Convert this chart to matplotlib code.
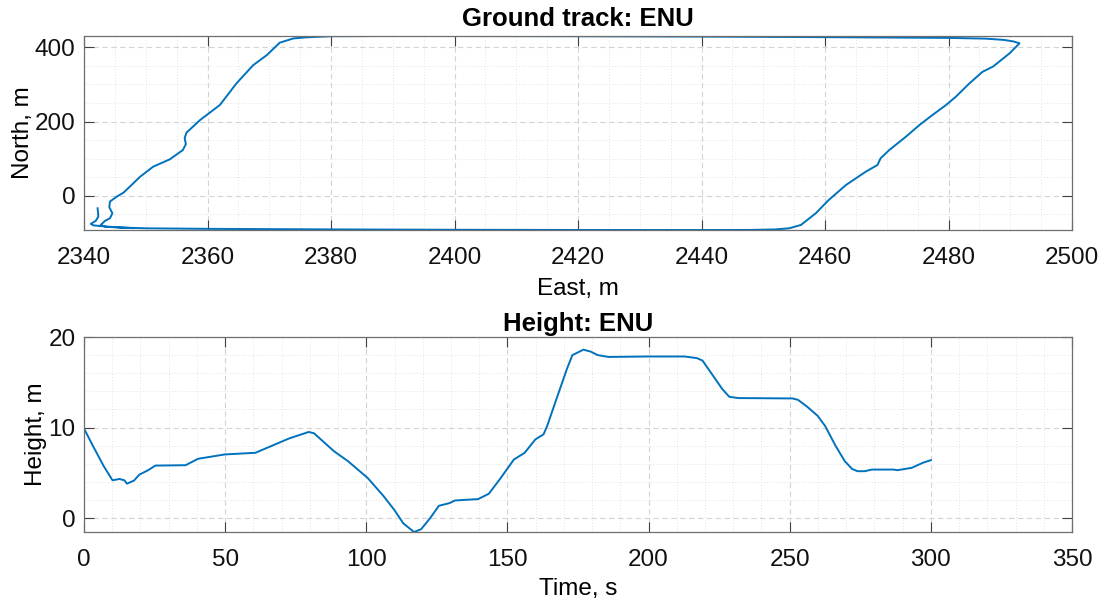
"""Ground track and height plots in ENU frame."""

from __future__ import annotations

import matplotlib as mpl

mpl.use("Agg")
import matplotlib.pyplot as plt
from matplotlib.ticker import MultipleLocator


# ground track, metres
EAST = [
    2342.2, 2342.3, 2342.3, 2341.9, 2341.1, 2341.5, 2342.6,
    2346.0, 2350.0, 2360.0, 2380.0, 2400.0, 2420.0, 2440.0, 2448.0, 2452.0, 2454.2, 2456.1,
    2458.5, 2460.6, 2463.4, 2466.6, 2468.5, 2469.0, 2470.4, 2473.1, 2475.3, 2477.4, 2479.6,
    2481.2, 2483.4, 2485.5, 2487.2, 2489.9, 2491.5,
    2490.5, 2489.0, 2486.0, 2480.0, 2460.0, 2440.0, 2420.0, 2400.0, 2390.0, 2380.0, 2376.0,
    2373.9, 2371.7,
    2369.6, 2367.4, 2364.7, 2362.0, 2358.8, 2356.6, 2356.3, 2356.5, 2356.0, 2353.9, 2351.2,
    2349.1, 2346.4, 2345.3, 2344.2, 2344.1, 2344.6, 2344.2, 2343.4, 2342.7, 2343.5, 2348.0,
]
NORTH = [
    -34.0, -50.0, -57.0, -68.0, -76.0, -80.0, -82.0,
    -86.0, -88.0, -89.5, -91.0, -92.0, -92.5, -92.6, -92.4, -91.0, -88.0, -79.0,
    -47.6, -11.7, 28.8, 64.7, 82.7, 100.7, 123.0, 159.0, 190.6, 217.5, 244.5,
    267.0, 303.0, 334.0, 348.0, 384.0, 411.0,
    416.0, 420.0, 423.5, 425.5, 427.5, 429.0, 430.0, 430.5, 430.6, 430.0, 427.0,
    424.0, 412.6,
    379.0, 352.0, 303.0, 244.5, 204.0, 170.0, 155.0, 139.0, 123.0, 98.0, 78.2,
    51.2, 8.1, -2.6, -16.0, -31.3, -47.5, -61.0, -68.0, -79.0, -84.0, -87.5,
]

# height over time
TIME = [
    0.0, 3.2, 7.0, 10.1, 12.6, 14.3, 15.2, 17.7, 19.6, 22.7, 25.3, 36.0, 40.4, 49.9, 60.7,
    66.3, 72.7, 79.6, 81.5, 88.5, 93.5, 100.5, 106.2, 109.9, 113.1, 116.9, 119.4, 122.6,
    125.7, 129.5, 131.4, 139.6, 143.4, 147.2, 152.3, 156.1, 159.9, 162.8, 164.1, 167.3,
    171.1, 173.0, 176.9, 179.4, 182.0, 185.8, 200.0, 212.7, 217.1, 219.1, 222.9, 226.1,
    228.6, 231.8, 251.0, 252.9, 256.1, 259.9, 262.5, 266.3, 269.5, 272.1, 274.0, 276.6,
    279.1, 286.8, 288.1, 293.2, 297.1, 300.0,
]
HEIGHT = [
    9.9, 7.96, 5.74, 4.19, 4.33, 4.19, 3.81, 4.15, 4.81, 5.3, 5.81, 5.85, 6.56, 7.04, 7.22,
    7.96, 8.81, 9.52, 9.37, 7.41, 6.3, 4.44, 2.41, 0.93, -0.56, -1.52, -1.22, 0.0,
    1.37, 1.67, 1.96, 2.11, 2.7, 4.26, 6.48, 7.22, 8.7, 9.26, 10.2, 13.1,
    16.5, 18.0, 18.6, 18.4, 18.0, 17.8, 17.85, 17.85, 17.67, 17.4, 15.7, 14.26,
    13.4, 13.26, 13.22, 13.07, 12.33, 11.3, 10.2, 7.96, 6.3, 5.44, 5.19, 5.19,
    5.37, 5.37, 5.3, 5.56, 6.11, 6.41,
]

LINE_COLOR = "#0072BD"


def style_axes(ax, x_major, x_minor, y_major, y_minor):
    ax.xaxis.set_major_locator(MultipleLocator(x_major))
    ax.xaxis.set_minor_locator(MultipleLocator(x_minor))
    ax.yaxis.set_major_locator(MultipleLocator(y_major))
    ax.yaxis.set_minor_locator(MultipleLocator(y_minor))
    ax.grid(True, which="major", linestyle=(0, (5, 3)), color="#d4d4d4", linewidth=0.8)
    ax.grid(True, which="minor", linestyle=(0, (1, 2)), color="#e2e2e2", linewidth=0.7)
    ax.set_axisbelow(True)
    ax.tick_params(which="major", direction="in", length=7, width=0.8, color="#404040",
                   top=True, right=True, labelsize=17.5, labelcolor="#111111")
    ax.tick_params(axis="x", which="major", pad=12.5)
    ax.tick_params(axis="y", which="major", pad=6)
    ax.tick_params(which="minor", length=0, top=True, right=True)
    for spine in ax.spines.values():
        spine.set_color("#6e6e6e")
        spine.set_linewidth(0.9)


def main() -> None:
    mpl.rcParams.update(
        {
            "font.family": ["Liberation Sans", "DejaVu Sans"],
            "font.size": 17.5,
        }
    )

    fig = plt.figure(figsize=(11.07, 6.03), dpi=100)
    ax_top = fig.add_axes([84 / 1107, 1 - 230 / 603, 988 / 1107, 194 / 603])
    ax_bot = fig.add_axes([84 / 1107, 1 - 532 / 603, 988 / 1107, 195 / 603])

    ax_top.plot(EAST, NORTH, color=LINE_COLOR, linewidth=1.4)
    style_axes(ax_top, 20, 5, 200, 50)
    ax_top.set_xlim(2340, 2500)
    ax_top.set_ylim(min(NORTH), max(NORTH))
    ax_top.set_xlabel("East, m", fontsize=17.5, labelpad=6)
    ax_top.set_ylabel("North, m", fontsize=17.5, labelpad=1)
    ax_top.set_title("Ground track: ENU", fontsize=18.5, fontweight="bold", pad=7)

    ax_bot.plot(TIME, HEIGHT, color=LINE_COLOR, linewidth=1.4)
    style_axes(ax_bot, 50, 10, 10, 2)
    ax_bot.set_xlim(0, 350)
    ax_bot.set_ylim(min(HEIGHT), 20)
    ax_bot.set_xlabel("Time, s", fontsize=17.5, labelpad=5)
    ax_bot.set_ylabel("Height, m", fontsize=17.5, labelpad=1)
    ax_bot.set_title("Height: ENU", fontsize=18.5, fontweight="bold", pad=4)

    fig.savefig("out.png", dpi=100)
    plt.close(fig)


if __name__ == "__main__":
    main()
